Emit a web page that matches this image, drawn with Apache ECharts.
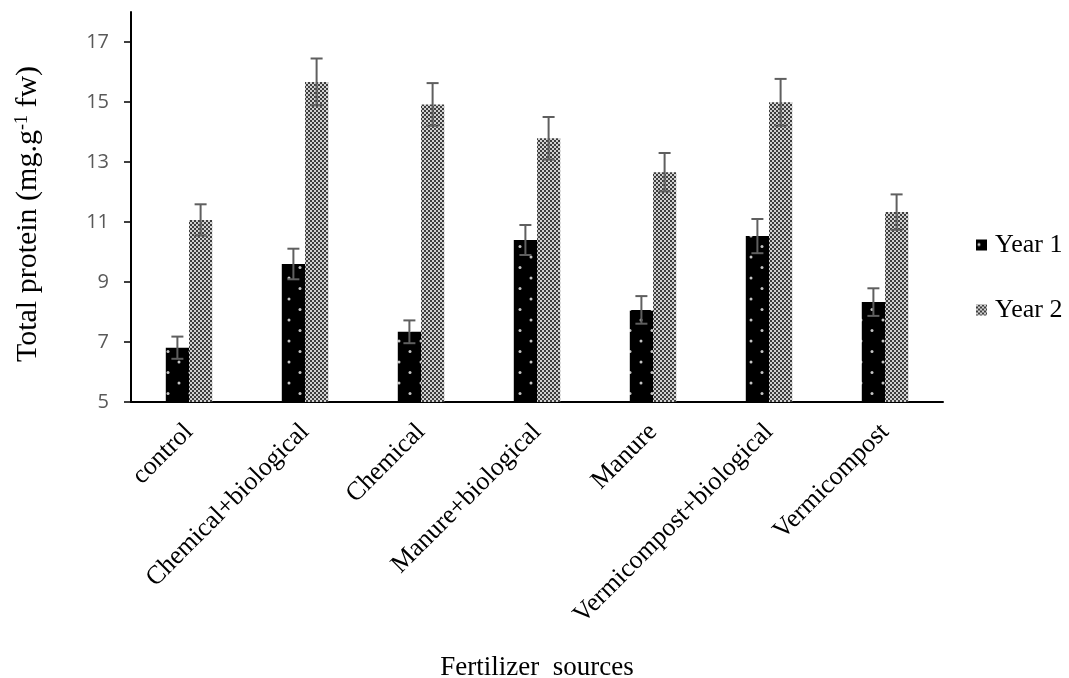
<!DOCTYPE html>
<html>
<head>
<meta charset="utf-8">
<script src="https://cdn.jsdelivr.net/npm/echarts@6/dist/echarts.min.js"></script>
<style>
html,body{margin:0;padding:0;background:#fff;}
#chart{width:1069px;height:678px;}
</style>
</head>
<body>
<div id="chart"></div>
<script>
var categories = ['control','Chemical+biological','Chemical','Manure+biological','Manure','Vermicompost+biological','Vermicompost'];
var year1 = [6.81, 9.60, 7.34, 10.40, 8.07, 10.53, 8.33];
var year1Err = [0.37, 0.51, 0.38, 0.50, 0.46, 0.57, 0.46];
var year2 = [11.07, 15.67, 14.92, 13.79, 12.66, 14.99, 11.33];
var year2Err = [0.52, 0.78, 0.71, 0.71, 0.64, 0.78, 0.59];
var yTicks = [5, 7, 9, 11, 13, 15, 17];

function makeDotPattern(){
  var c = document.createElement('canvas');
  c.width = 22; c.height = 21;
  var g = c.getContext('2d');
  g.fillStyle = '#000'; g.fillRect(0,0,22,21);
  g.fillStyle = '#c4c4c4';
  g.beginPath(); g.arc(3,5,1.5,0,Math.PI*2); g.fill();
  g.beginPath(); g.arc(14,15.5,1.5,0,Math.PI*2); g.fill();
  return c;
}
function makeCheckPattern(){
  var c = document.createElement('canvas');
  c.width = 4; c.height = 4;
  var g = c.getContext('2d');
  g.fillStyle = '#3e3e3e'; g.fillRect(0,0,4,4);
  g.fillStyle = '#d2d2d2';
  g.fillRect(0,0,2,2); g.fillRect(2,2,2,2);
  return c;
}

var serif = '"Liberation Serif", "Times New Roman", serif';
var chart = echarts.init(document.getElementById('chart'));

function errSeries(vals, errs, frac){
  return {
    type: 'custom',
    silent: true,
    z: 10,
    data: vals.map(function(v,i){ return [i, v, errs[i]]; }),
    renderItem: function(params, api){
      var idx = api.value(0), v = api.value(1), e = api.value(2);
      var band = api.size([1,0])[0];
      var top = api.coord([idx, v + e]);
      var bot = api.coord([idx, v - e]);
      var cx = top[0] + frac * band;
      var hw = 6;
      var st = {stroke:'#5f5f5f', lineWidth:2};
      return {type:'group', children:[
        {type:'line', shape:{x1:cx,y1:top[1],x2:cx,y2:bot[1]}, style:st},
        {type:'line', shape:{x1:cx-hw,y1:top[1],x2:cx+hw,y2:top[1]}, style:st},
        {type:'line', shape:{x1:cx-hw,y1:bot[1],x2:cx+hw,y2:bot[1]}, style:st}
      ]};
    }
  };
}

chart.setOption({
  animation: false,
  backgroundColor: '#fff',
  grid: {left: 131, right: 126, top: 12, bottom: 276, containLabel: false, outerBoundsMode: 'none'},
  legend: {
    orient: 'vertical',
    left: 971, top: 227,
    icon: 'rect',
    itemWidth: 11, itemHeight: 11,
    itemGap: 39,
    data: ['Year 1','Year 2'],
    textStyle: {fontFamily: serif, fontSize: 26, color: '#000', padding: [0,0,0,3]}
  },
  xAxis: {
    type: 'category',
    data: categories,
    axisLine: {lineStyle: {color: '#000', width: 2}},
    axisTick: {show: false},
    axisLabel: {rotate: 45, interval: 0, margin: 26, fontFamily: serif, fontSize: 26, color: '#000'},
    name: 'Fertilizer  sources',
    nameLocation: 'middle',
    nameGap: 252,
    nameTextStyle: {fontFamily: serif, fontSize: 27, color: '#000'}
  },
  yAxis: {
    type: 'value',
    min: 5, max: 18, interval: 2,
    splitLine: {show: false},
    axisLine: {show: true, lineStyle: {color: '#000', width: 2}},
    axisTick: {show: true, length: 7, lineStyle: {color: '#000', width: 1.5}},
    axisLabel: {
      showMaxLabel: false, margin: 22,
      fontFamily: '"Open Sans", "Liberation Sans", sans-serif', fontSize: 20, color: '#595959',
      formatter: function(v){ return yTicks.indexOf(v) >= 0 ? String(v) : ''; }
    },
    name: 'Total protein (mg.g{sup|-1} fw)',
    nameLocation: 'middle',
    nameGap: 88,
    nameTextStyle: {
      fontFamily: serif, fontSize: 30, color: '#000', padding: [0, 14, 0, 0],
      rich: {sup: {fontFamily: serif, fontSize: 18, verticalAlign: 'top', color: '#000', padding: [0,0,11,0]}}
    }
  },
  series: [
    {name: 'Year 1', type: 'bar', data: year1, barWidth: '20%', barGap: '0%',
     itemStyle: {color: {image: makeDotPattern(), repeat: 'repeat'}}},
    {name: 'Year 2', type: 'bar', data: year2, barWidth: '20%', barGap: '0%',
     itemStyle: {color: {image: makeCheckPattern(), repeat: 'repeat'}}},
    errSeries(year1, year1Err, -0.1),
    errSeries(year2, year2Err, 0.1)
  ]
});
</script>
</body>
</html>
